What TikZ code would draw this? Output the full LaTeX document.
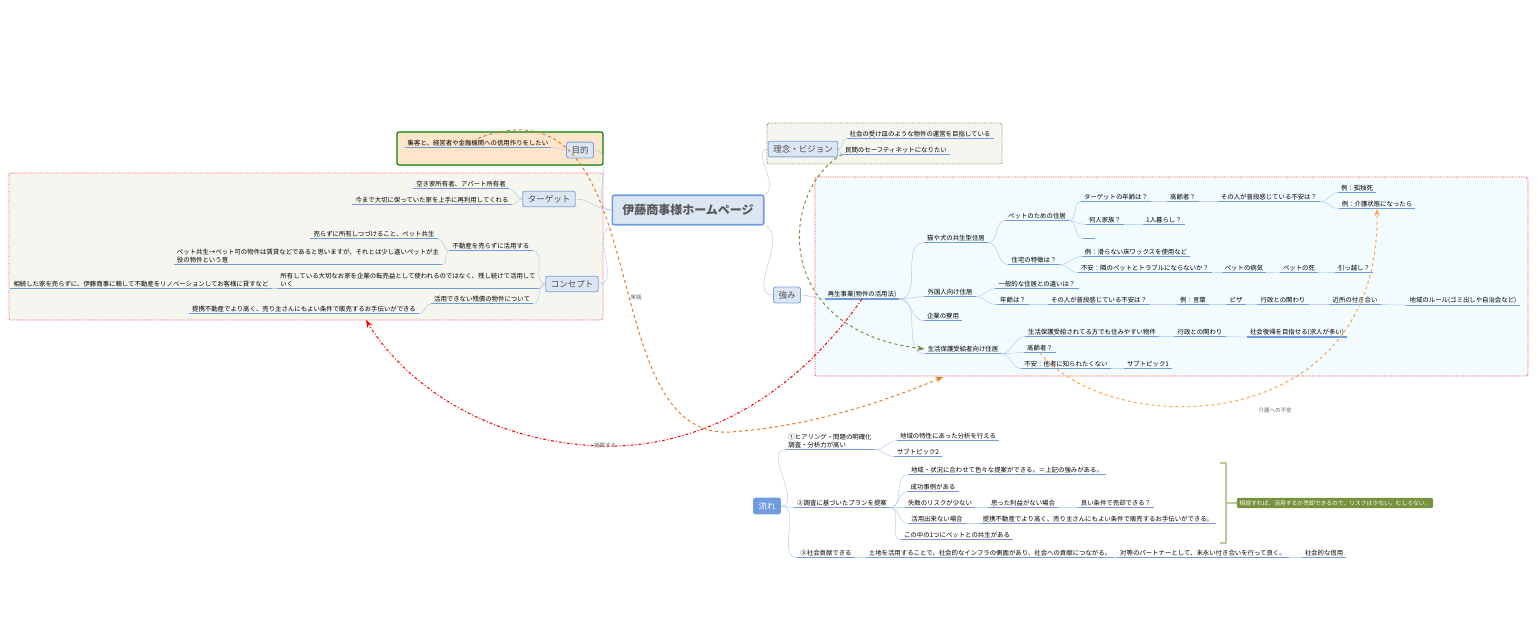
\documentclass[tikz,border=0pt]{standalone}
\usepackage{fontspec}
\setmainfont{Noto Sans CJK JP}
\usepackage{tikz}
\usetikzlibrary{arrows.meta,shapes}
\usepackage{xcolor}
\definecolor{ulc}{HTML}{6F9BE0}
\definecolor{brc}{HTML}{A9C3E8}
\definecolor{boxf}{HTML}{DCE6F2}
\definecolor{boxd}{HTML}{7EA3D6}
\definecolor{olive}{HTML}{76923C}
\definecolor{orng}{HTML}{E87722}
\newcommand\brR[2]{\draw[br](#1.south east) to[out=0,in=180](#2.south west);}
\newcommand\brL[2]{\draw[br](#1.south west) to[out=180,in=0](#2.south east);}
\newcommand\bxR[2]{\draw[br](#1.east) to[out=0,in=180](#2.south west);}
\newcommand\bxL[2]{\draw[br](#1.west) to[out=180,in=0](#2.south east);}
\begin{document}
\begin{tikzpicture}[x=1pt,y=-1pt,>=Stealth,font=\fontsize{6.4}{8}\selectfont]
\tikzstyle{ul}=[draw=ulc,line width=1.1pt]
\tikzstyle{br}=[draw=brc,thin]
\tikzstyle{t}=[inner xsep=3pt,inner ysep=1.5pt,align=left,append after command={(\tikzlastnode.south west) edge[ul] (\tikzlastnode.south east)}]
\tikzstyle{main}=[rectangle,rounded corners=2pt,draw=boxd,thick,fill=boxf,inner xsep=5pt,inner ysep=4pt,font=\fontsize{8.5}{10}\selectfont,text=black!70]
\tikzstyle{rel}=[dashed,line width=1pt,->]
\tikzstyle{lbl}=[font=\fontsize{5.5}{6}\selectfont\itshape,text=black!60]
\useasboundingbox (0,0) rectangle (1537,624);
% group boxes
\draw[green!50!black,line width=1.2pt,rounded corners=2pt,fill=orange!20] (397,132) rectangle (603,165);
\draw[red!70,densely dotted,thick,rounded corners=2pt,fill=olive!8] (9,173) rectangle (603,320);
\draw[olive,densely dotted,thick,rounded corners=2pt,fill=olive!8] (767,123) rectangle (1002,164);
\draw[red!80,densely dotted,thick,rounded corners=2pt,fill=cyan!5] (815,177) rectangle (1528,376);
% center and main topics
\node(home)at(688,210)[main,line width=1.6pt,draw=ulc,inner xsep=10pt,inner ysep=9pt,font=\fontsize{12}{13}\selectfont\bfseries,text=black!65]{伊藤商事様ホームページ};
\node(goal)at(580,150)[main]{目的};
\node(tgt)at(549,199)[main]{ターゲット};
\node(cpt)at(572,284)[main]{コンセプト};
\node(vis)at(803,149)[main]{理念・ビジョン};
\node(str)at(787,295)[main]{強み};
\node(flow)at(767,506)[main,fill=ulc,draw=ulc,text=white]{流れ};
\draw[br](home.west) to[out=180,in=0](goal.east);
\draw[br](home.west) to[out=180,in=0](tgt.east);
\draw[br](home.south west) to[out=200,in=0](cpt.east);
\draw[br](home.north east) to[out=20,in=180](vis.west);
\draw[br](home.south east) to[out=-20,in=180](str.west);
% left side
\node(goal1)at(478,143)[t]{集客と、経営者や金融機関への信用作りをしたい};
\bxL{goal}{goal1}
\node(tgt1)at(461,184)[t]{空き家所有者、アパート所有者};
\node(tgt2)at(432,200)[t]{今まで大切に保っていた家を上手に再利用してくれる};
\bxL{tgt}{tgt1}\bxL{tgt}{tgt2}
\node(c1)at(491,246)[t]{不動産を売らずに活用する};
\node(c11)at(374,234)[t]{売らずに所有しつづけること、ペット共生};
\node(c12)at(308,256)[t]{ペット共生→ペット可の物件は賃貸などであると思いますが、それとは少し違いペットが主\\役の物件という意};
\node(c2)at(408,280)[t]{所有している大切なお家を企業の転売益として使われるのではなく、残し続けて活用して\\いく};
\node(c21)at(141,284)[t]{相続した家を売らずに、伊藤商事に頼して不動産をリノベーションしてお客様に貸すなど};
\node(c3)at(482,299)[t]{活用できない残債の物件について};
\node(c31)at(304,309)[t]{提携不動産でより高く、売り主さんにもよい条件で販売するお手伝いができる};
\bxL{cpt}{c1}\bxL{cpt}{c2}\bxL{cpt}{c3}
\brL{c1}{c11}\brL{c1}{c12}\brL{c2}{c21}\brL{c3}{c31}
% vision
\node(v1)at(920,134)[t]{社会の受け皿のような物件の運営を目指している};
\node(v2)at(896,150)[t]{民間のセーフティネットになりたい};
\bxR{vis}{v1}\bxR{vis}{v2}
% strengths
\node(s)at(862,294)[t]{再生事業(物件の活用法)};
\bxR{str}{s}
\node(p)at(956,238)[t]{猫や犬の共生型住居};
\node(f)at(950,292)[t]{外国人向け住居};
\node(dorm)at(943,316)[t]{企業の寮用};
\node(w)at(963,349)[t]{生活保護受給者向け住居};
\brR{s}{p}\brR{s}{f}\brR{s}{dorm}\brR{s}{w}
\node(p1)at(1037,216)[t]{ペットのための住居};
\node(p2)at(1034,260)[t]{住宅の特徴は？};
\brR{p}{p1}\brR{p}{p2}
\node(pa)at(1116,197)[t]{ターゲットの年齢は？};
\node(pa1)at(1183,197)[t]{高齢者？};
\node(pa2)at(1269,197)[t]{その人が普段感じている不安は？};
\node(pa3)at(1357,188)[t]{例：孤独死};
\node(pa4)at(1377,204)[t]{例：介護状態になったら};
\node(pb)at(1105,220)[t]{何人家族？};
\node(pb1)at(1164,220)[t]{1人暮らし？};
\node(pc)at(1089,237)[t,minimum width=12pt]{};
\brR{p1}{pa}\brR{p1}{pb}\brR{p1}{pc}
\brR{pa}{pa1}\brR{pa1}{pa2}\brR{pa2}{pa3}\brR{pa2}{pa4}\brR{pb}{pb1}
\node(q1)at(1136,252)[t]{例：滑らない床ワックスを使用など};
\node(q2)at(1145,268)[t]{不安：隣のペットとトラブルにならないか？};
\node(q3)at(1244,268)[t]{ペットの病気};
\node(q4)at(1299,268)[t]{ペットの死};
\node(q5)at(1354,268)[t]{引っ越し？};
\brR{p2}{q1}\brR{p2}{q2}\brR{q2}{q3}\brR{q3}{q4}\brR{q4}{q5}
\node(f1)at(1037,284)[t]{一般的な住居との違いは？};
\node(f2)at(1013,300)[t]{年齢は？};
\node(f3)at(1099,300)[t]{その人が普段感じている不安は？};
\node(f4)at(1193,300)[t]{例：言葉};
\node(f5)at(1236,300)[t]{ビザ};
\node(f6)at(1283,300)[t]{行政との関わり};
\node(f7)at(1355,300)[t]{近所の付き合い};
\node(f8)at(1463,300)[t]{地域のルール(ゴミ出しや自治会など)};
\brR{f}{f1}\brR{f}{f2}\brR{f2}{f3}\brR{f3}{f4}\brR{f4}{f5}\brR{f5}{f6}\brR{f6}{f7}\brR{f7}{f8}
\node(w1)at(1092,332)[t]{生活保護受給されてる方でも住みやすい物件};
\node(w11)at(1200,332)[t]{行政との関わり};
\node(w12)at(1297,332)[t]{社会復帰を目指せる(求人が多い)};
\node(w2)at(1040,348)[t]{高齢者？};
\node(w3)at(1066,364)[t]{不安：他者に知られたくない};
\node(w31)at(1148,364)[t]{サブトピック1};
\brR{w}{w1}\brR{w}{w2}\brR{w}{w3}\brR{w1}{w11}\brR{w11}{w12}\brR{w3}{w31}
% flow
\node(n1)at(830,441)[t]{①ヒアリング・問題の明確化\\調査・分析力が高い};
\node(n2)at(842,503)[t]{②調査に基づいたプランを提案};
\node(n3)at(826,553)[t]{③社会貢献できる};
\bxR{flow}{n1}\bxR{flow}{n2}\bxR{flow}{n3}
\node(n11)at(948,436)[t]{地域の特性にあった分析を行える};
\node(n12)at(918,452)[t]{サブトピック2};
\brR{n1}{n11}\brR{n1}{n12}
\node(n21)at(1007,470)[t]{地域・状況に合わせて色々な提案ができる。＝上記の強みがある。};
\node(n22)at(933,487)[t]{成功事例がある};
\node(n23)at(940,503)[t]{失敗のリスクが少ない};
\node(n231)at(1023,503)[t]{思った利益がない場合};
\node(n232)at(1116,503)[t]{良い条件で売却できる？};
\node(n24)at(937,519)[t]{活用出来ない場合};
\node(n241)at(1098,519)[t]{提携不動産でより高く、売り主さんにもよい条件で販売するお手伝いができる。};
\node(n25)at(957,535)[t]{この中の1つにペットとの共生がある};
\foreach \k in {n21,n22,n23,n24,n25}{\brR{n2}{\k}}
\brR{n23}{n231}\brR{n231}{n232}\brR{n24}{n241}
\node(n31)at(990,553)[t]{土地を活用することで、社会的なインフラの側面があり、社会への貢献につながる。};
\node(n32)at(1203,553)[t]{対等のパートナーとして、末永い付き合いを行って良く。};
\node(n33)at(1324,553)[t]{社会的な信用};
\brR{n3}{n31}\brR{n31}{n32}\brR{n32}{n33}
% summary
\coordinate(sb1)at(1220,463);\coordinate(sb2)at(1220,543);
\draw[olive!50,line width=1.5pt](sb1)-|(1226,503)|-(sb2);
\node(sum)at(1335,503)[rounded corners=2pt,fill=olive,text=white,inner sep=2.5pt,font=\fontsize{5.8}{6}\selectfont\itshape]{相談すれば、活用するか売却できるので、リスクは少ない。むしろない。};
\draw[olive!50,line width=1.5pt](1226,503)--(sum.west);
% relationships
\draw[rel,orng](goal1.north) .. controls (660,70) and (590,440) .. (730,432) .. controls (820,426) and (900,395) .. (943,377);
\node[lbl]at(636,297){実践};
\draw[rel,red,dash dot](s.south) .. controls (770,430) and (660,448) .. (600,446) .. controls (460,440) and (390,360) .. (366,320);
\node[lbl]at(605,445){提案する};
\draw[rel,olive](v2.south west) .. controls (780,190) and (770,330) .. (w.west);
\draw[rel,orange!70](w2.south) .. controls (1110,440) and (1380,440) .. (pa4.south);
\node[lbl]at(1275,410){介護への不安};
\end{tikzpicture}
\end{document}
